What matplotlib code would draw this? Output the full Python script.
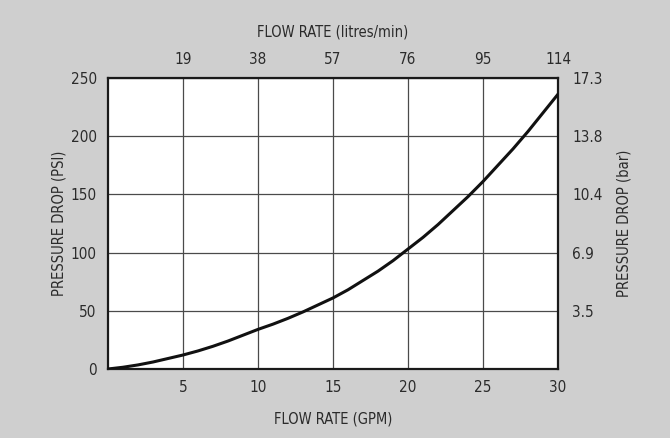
import matplotlib
matplotlib.use("Agg")
import matplotlib.pyplot as plt

# Pressure drop vs flow rate, read at 1 GPM steps
flow_gpm = list(range(0, 31))
drop_psi = [0, 1.5, 3.5, 6, 9, 12, 15.5, 19.5, 24, 29,
            34, 38.5, 43.5, 49, 55, 61, 68, 76, 84, 93,
            103, 113, 124, 136, 148, 161, 175, 189, 204, 220,
            236]

gpm_ticks = [5, 10, 15, 20, 25, 30]
lpm_labels = ["19", "38", "57", "76", "95", "114"]
psi_ticks = [0, 50, 100, 150, 200, 250]
bar_ticks = [50, 100, 150, 200, 250]
bar_labels = ["3.5", "6.9", "10.4", "13.8", "17.3"]

bg = "#cfcfcf"
ink = "#2b2b2b"
font = dict(family="DejaVu Sans", stretch="condensed", weight="medium")

fig = plt.figure(figsize=(6.7, 4.38), dpi=100, facecolor=bg)
ax = fig.add_axes([0.161, 0.1575, 0.672, 0.665])
ax.set_facecolor("white")

ax.plot(flow_gpm, drop_psi, color="#111111", lw=2.2, solid_capstyle="round", zorder=3)

ax.set_xlim(0, 30)
ax.set_ylim(0, 250)
ax.set_xticks(gpm_ticks)
ax.set_yticks(psi_ticks)
ax.grid(True, color="#4a4a4a", lw=0.9)
ax.tick_params(length=0, labelsize=11, labelcolor=ink, pad=8)
for lbl in ax.get_xticklabels() + ax.get_yticklabels():
    lbl.set(**font)
for s in ax.spines.values():
    s.set_color("#1a1a1a")
    s.set_linewidth(1.6)

ax.set_xlabel("FLOW RATE (GPM)", fontsize=10.5, color=ink, labelpad=12, **font)
ax.set_ylabel("PRESSURE DROP (PSI)", fontsize=10.5, color=ink, labelpad=3, **font)

# Metric scales on the top and right
top = ax.secondary_xaxis("top")
top.set_xticks(gpm_ticks, lpm_labels)
top.tick_params(length=0, labelsize=11, labelcolor=ink, pad=8)
top.set_xlabel("FLOW RATE (litres/min)", fontsize=10.5, color=ink, labelpad=11, **font)
for lbl in top.get_xticklabels():
    lbl.set(**font)
top.spines["top"].set_visible(False)

right = ax.secondary_yaxis("right")
right.set_yticks(bar_ticks, bar_labels)
right.tick_params(length=0, labelsize=11, labelcolor=ink, pad=10)
right.set_ylabel("PRESSURE DROP (bar)", fontsize=10.5, color=ink, labelpad=10, **font)
for lbl in right.get_yticklabels():
    lbl.set(**font)
right.spines["right"].set_visible(False)

fig.savefig("out.png", dpi=100, facecolor=bg)
